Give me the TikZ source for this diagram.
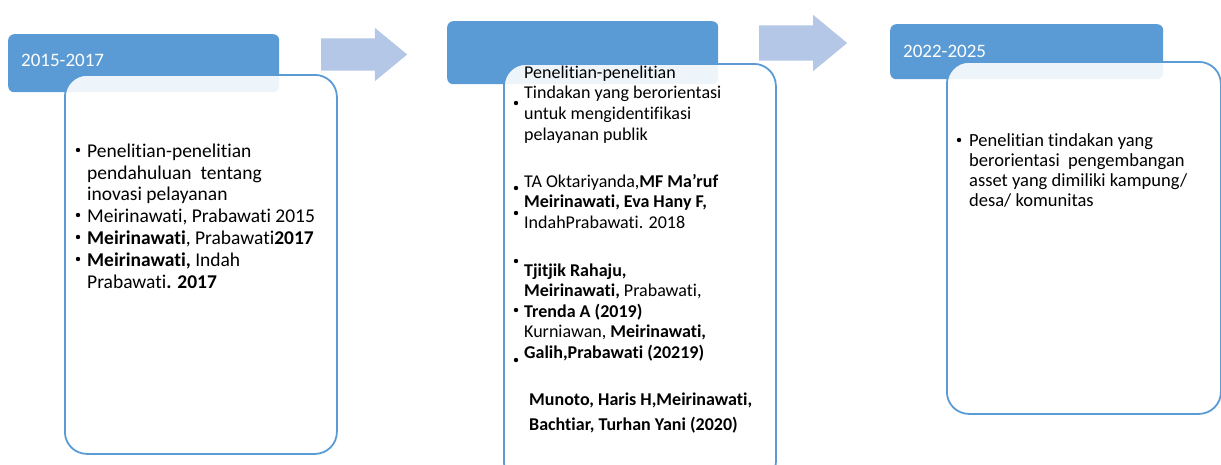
\documentclass[tikz,border=0pt]{standalone}
\usepackage{fontspec}
\setmainfont{Carlito}[Ligatures=NoCommon]
\usetikzlibrary{shapes.arrows}
\definecolor{hdrblue}{HTML}{5B9BD5}
\definecolor{arrblue}{HTML}{B4C7E7}

\begin{document}
\begin{tikzpicture}[x=1pt, y=-1pt,
        header/.style={rectangle, rounded corners=6pt, fill=hdrblue, minimum width=271pt, minimum height=58pt, anchor=north west, inner sep=0pt},
        panel/.style={rectangle, rounded corners=22pt, draw=hdrblue, line width=1.8pt, fill=white, fill opacity=0.9, minimum width=272pt, anchor=north west, inner sep=0pt},
        yearlabel/.style={anchor=base west, inner sep=0pt, text=white, font=\fontsize{19}{22}\selectfont},
        % blok teks di dalam panel (base = baris terakhir)
        itemtext/.style={anchor=base west, inner sep=0pt, align=left, text=black},
        blockarrow/.style={single arrow, single arrow head extend=10.5pt, single arrow tip angle=79, minimum height=86pt, inner xsep=0pt, inner ysep=16pt, fill=arrblue, draw=none, anchor=west}
    ]
        \clip (0,0) rectangle (1221,464);

        % Panah penghubung
        \node (arrAB) [blockarrow] at (321,54.5) {};
        \node (arrBC) [blockarrow, minimum height=88pt, inner ysep=17.5pt] at (759,43) {};

        % Panel 1: 2015-2017
        \node (hdrA) [header] at (8,34) {};
        \node (bodyA) [panel, minimum height=379pt] at ([shift={(56,40)}]hdrA.north west) {};
        \node (yrA) [yearlabel] at (21,66) {2015-2017};
        \node (txtA) [itemtext, font=\fontsize{19.5}{21.8}\selectfont] at (87,288) {Penelitian-penelitian\\pendahuluan\ \ tentang\\inovasi pelayanan\\Meirinawati, Prabawati 2015\\\textbf{Meirinawati}, Prabawati\textbf{2017}\\\textbf{Meirinawati,} Indah\\Prabawati\textbf{. 2017}};
        \foreach \y in {150,215,237,259} \fill (78,\y) circle (2.2pt);

        % Panel 2
        \node (hdrB) [header, minimum height=63pt] at (447,21) {};
        \node (bodyB) [panel, minimum height=420pt] at ([shift={(56,42)}]hdrB.north west) {};
        \node (txtBa) [itemtext, font=\fontsize{18}{20.6}\selectfont] at (524,140) {Penelitian-penelitian\\Tindakan yang berorientasi\\untuk mengidentifikasi\\pelayanan publik};
        \node (txtBb) [itemtext, font=\fontsize{18}{20.5}\selectfont] at (524,228) {TA Oktariyanda,\textbf{MF Ma’ruf}\\\textbf{Meirinawati, Eva Hany F,}\\IndahPrabawati. 2018};
        \node (txtBc) [itemtext, font=\fontsize{18}{20.4}\selectfont] at (524,358) {\textbf{Tjitjik Rahaju,}\\\textbf{Meirinawati,} Prabawati,\\\textbf{Trenda A (2019)}\\Kurniawan, \textbf{Meirinawati,}\\\textbf{Galih,Prabawati (20219)}};
        \node (txtBd) [itemtext, font=\fontsize{18}{25}\selectfont\bfseries] at (529,430) {Munoto, Haris H,Meirinawati,\\Bachtiar, Turhan Yani (2020)};
        \foreach \y in {103,188,213,261,310,360} \fill (516,\y) circle (2.2pt);

        % Panel 3: 2022-2025
        \node (hdrC) [header, minimum width=273pt, minimum height=55pt] at (890,24) {};
        \node (bodyC) [panel, minimum width=274pt, minimum height=352pt] at ([shift={(56,37)}]hdrC.north west) {};
        \node (yrC) [yearlabel] at (903,57) {2022-2025};
        \node (txtC) [itemtext, font=\fontsize{18.5}{19.8}\selectfont] at (969,206) {Penelitian tindakan yang\\berorientasi\ \ pengembangan\\asset\ yang\ dimiliki\ kampung/\\desa/ komunitas};
        \fill (959,140) circle (2.2pt);
    \end{tikzpicture}
\end{document}
